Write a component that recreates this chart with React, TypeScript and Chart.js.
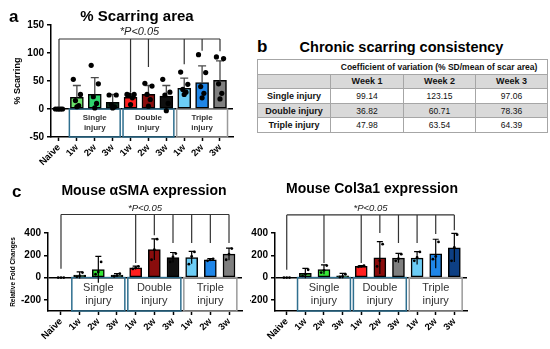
import React, { useEffect, useRef } from 'react';
import { Chart, registerables } from 'chart.js';

Chart.register(...registerables);

const FONT = "'Liberation Sans', Arial, Helvetica, sans-serif";
Chart.defaults.font.family = FONT;

// ---------- shared categories ----------
const groupLabels = ['Naive', '1w', '2w', '3w', '1w', '2w', '3w', '1w', '2w', '3w'];
const injuryLabels = [['Single', 'injury'], ['Double', 'injury'], ['Triple', 'injury']];
const injuryRanges = [[1, 3], [4, 6], [7, 9]];
const sigText = '*P<0.05';

// ---------- panel a: % scarring area ----------
const scarMean = [0, 21, 26, 12, 21, 26, 23, 37, 47, 51];
const scarSD = [0, 21, 30, 14, 6, 16, 19, 18, 30, 35];
const scarPoints = [
  [0, 0, 0, 0, 0],
  [53, 26, 15, 6, 4],
  [78, 45, 22, 10, 2],
  [25, 25, 8, 4, 2],
  [26, 26, 25, 20, 8],
  [46, 41, 26, 17, 5],
  [53, 30, 25, 10, -3],
  [66, 44, 35, 30, 26],
  [97, 65, 40, 28, 20],
  [93, 90, 45, 28, 18],
];
const scarTicks = [-50, 0, 50, 100, 150];
const scarBracketLevel = 125;
const scarBracketDrops = [[0, 3], [4, 29], [5, 75], [7, 80], [8, 104], [9, 103]];

// ---------- panel b: table ----------
const tableHeader = 'Coefficient of variation (% SD/mean of scar area)';
const tableWeeks = ['Week 1', 'Week 2', 'Week 3'];
const tableRows = ['Single injury', 'Double injury', 'Triple injury'];
const tableValues = [
  ['99.14', '123.15', '97.06'],
  ['36.82', '60.71', '78.36'],
  ['47.98', '63.54', '64.39'],
];

// ---------- panel c: fold changes ----------
const foldTicks = [-200, 0, 200, 400];

const smaMean = [0, 22, 72, 22, 88, 252, 180, 180, 160, 210];
const smaSD = [0, 30, 118, 14, 15, 95, 45, 55, 10, 55];
const smaPoints = [
  [0, 0, 0], [8, 15, 45], [30, 50, 140], [12, 18, 35], [78, 88, 100],
  [160, 250, 345], [140, 185, 215], [120, 190, 230], [150, 160, 168], [160, 210, 260],
];
const smaBracketLevel = 566;
const smaBracketDrops = [[0, 80], [4, 130], [5, 380], [6, 310], [7, 310], [8, 310], [9, 310]];

const colMean = [0, 38, 72, 15, 101, 178, 175, 175, 214, 268];
const colSD = [0, 45, 42, 22, 6, 145, 42, 57, 130, 128];
const colPoints = [
  [0, 0, 0], [15, 30, 70], [45, 65, 108], [5, 10, 30], [96, 100, 106],
  [100, 150, 300], [150, 170, 210], [150, 180, 230], [165, 190, 320], [150, 270, 385],
];
const colBracketLevel = 562;
const colBracketDrops = [[0, 70], [2, 130], [4, 130], [5, 400], [6, 310], [7, 310], [8, 390], [9, 425]];

// ---------- colours ----------
const scarColors = ['#ffffff', '#6be36b', '#2fd46e', '#10301c', '#ff1f1f', '#8a0d0d', '#101010', '#6ccdf6', '#1f86e8', '#7f7f7f'];
const smaColors = ['#ffffff', '#1e7a2c', '#35e635', '#1f6b33', '#ff1f1f', '#8a0d0d', '#101010', '#6ccdf6', '#1f86e8', '#7f7f7f'];
const colColors = ['#ffffff', '#3fbf3f', '#35e635', '#1f6b33', '#ff1f1f', '#8a0d0d', '#7f7f7f', '#6ccdf6', '#1f86e8', '#0d3f84'];
const boxColors = ['#2f6f8f', '#2f6f8f', '#9a9a9a'];

type Spec = {
  key: string;
  left: number; top: number; w: number; h: number;
  means: number[]; sds: number[]; points: number[][]; colors: string[];
  xMin: number; xMax: number; yMin: number; yMax: number; yTicks: number[];
  yAxisWidth: number; xAxisHeight: number; padTop: number; padRight: number;
  yTitle?: string; yTitleSize?: number; yTitlePad?: number;
  barWidth: number; dotRadius: number; jitter: number[];
  errColor: string; errBoth: boolean; capHalf: number; errWidth: number;
  bracketLevel: number; bracketDrops: number[][]; sigFont: string;
  boxFont: string; boxGap: number; boxPad: number;
  xTickSize: number; yTickSize: number;
};

function makeDecor(s: Spec) {
  return {
    id: 'decor_' + s.key,
    beforeDatasetsDraw(chart: any) {
      const { ctx, chartArea } = chart;
      const x = chart.scales.x, y = chart.scales.y;
      const y0 = y.getPixelForValue(0);
      const yb = chartArea.bottom;
      injuryRanges.forEach(([a, b], k) => {
        const xl = x.getPixelForValue(a - s.boxPad);
        const xr = x.getPixelForValue(b + s.boxPad);
        ctx.save();
        ctx.strokeStyle = boxColors[k];
        ctx.lineWidth = 1.5;
        ctx.strokeRect(xl, y0, xr - xl, yb - y0);
        ctx.fillStyle = '#333';
        ctx.font = s.boxFont;
        ctx.textAlign = 'center';
        ctx.textBaseline = 'middle';
        const cx = (xl + xr) / 2, cy = (y0 + yb) / 2;
        ctx.fillText(injuryLabels[k][0], cx, cy - s.boxGap);
        ctx.fillText(injuryLabels[k][1], cx, cy + s.boxGap);
        ctx.restore();
      });
    },
    afterDatasetDraw(chart: any, args: any) {
      if (args.index !== 0) return;
      const { ctx } = chart;
      const y = chart.scales.y;
      const meta = chart.getDatasetMeta(0);
      ctx.save();
      ctx.strokeStyle = s.errColor;
      ctx.lineWidth = s.errWidth;
      meta.data.forEach((el: any, i: number) => {
        const sd = s.sds[i];
        if (!sd) return;
        const m = s.means[i];
        const yt = y.getPixelForValue(m + sd);
        const yl = s.errBoth ? y.getPixelForValue(m - sd) : y.getPixelForValue(m);
        ctx.beginPath();
        ctx.moveTo(el.x, yl);
        ctx.lineTo(el.x, yt);
        ctx.moveTo(el.x - s.capHalf, yt);
        ctx.lineTo(el.x + s.capHalf, yt);
        ctx.stroke();
      });
      ctx.restore();
    },
    afterDraw(chart: any) {
      const { ctx } = chart;
      const x = chart.scales.x, y = chart.scales.y;
      const yl = y.getPixelForValue(s.bracketLevel);
      const first = x.getPixelForValue(s.bracketDrops[0][0]);
      const last = x.getPixelForValue(s.bracketDrops[s.bracketDrops.length - 1][0]);
      ctx.save();
      ctx.strokeStyle = '#333';
      ctx.lineWidth = 1.2;
      ctx.beginPath();
      ctx.moveTo(first, yl);
      ctx.lineTo(last, yl);
      s.bracketDrops.forEach(([idx, end]) => {
        const px = x.getPixelForValue(idx);
        ctx.moveTo(px, yl);
        ctx.lineTo(px, y.getPixelForValue(end));
      });
      ctx.stroke();
      ctx.fillStyle = '#222';
      ctx.font = s.sigFont;
      ctx.textAlign = 'center';
      ctx.textBaseline = 'bottom';
      ctx.fillText(sigText, (first + last) / 2, yl - 1.5);
      ctx.restore();
    },
  };
}

function buildConfig(s: Spec): any {
  const barData = s.means.map((m, i) => ({ x: i, y: m }));
  const dotData = s.points.flatMap((arr, i) => arr.map((v, j) => ({ x: i + s.jitter[j], y: v })));
  return {
    type: 'bar',
    data: {
      datasets: [
        {
          type: 'bar', data: barData, backgroundColor: s.colors, borderColor: '#000',
          borderWidth: 1.5, borderSkipped: false, barThickness: s.barWidth, order: 2,
        },
        {
          type: 'scatter', data: dotData, backgroundColor: '#000', borderWidth: 0,
          pointRadius: s.dotRadius, order: 1,
        },
      ],
    },
    options: {
      responsive: false,
      animation: false,
      devicePixelRatio: 1,
      layout: { padding: { top: s.padTop, right: s.padRight, left: 0, bottom: 0 } },
      plugins: { legend: { display: false }, tooltip: { enabled: false }, title: { display: false } },
      scales: {
        x: {
          type: 'linear', min: s.xMin, max: s.xMax, offset: false,
          afterBuildTicks: (sc: any) => { sc.ticks = groupLabels.map((_, i) => ({ value: i })); },
          afterFit: (sc: any) => { sc.height = s.xAxisHeight; },
          ticks: {
            autoSkip: false, minRotation: 45, maxRotation: 45, color: '#000', padding: 1,
            font: { size: s.xTickSize, weight: 'bold' },
            callback: (v: any) => groupLabels[v] ?? '',
          },
          grid: { display: true, drawOnChartArea: false, drawTicks: true, tickLength: 4, tickColor: '#000', tickWidth: 1.5, offset: false },
          border: { display: true, color: '#000', width: 1.5 },
        },
        y: {
          type: 'linear', min: s.yMin, max: s.yMax,
          afterBuildTicks: (sc: any) => { sc.ticks = s.yTicks.map((v) => ({ value: v })); },
          afterFit: (sc: any) => { sc.width = s.yAxisWidth; },
          ticks: { color: '#000', padding: 3, font: { size: s.yTickSize, weight: 'bold' } },
          grid: {
            color: (c: any) => (c.tick && c.tick.value === 0 ? '#000' : 'rgba(0,0,0,0)'),
            lineWidth: 1.5, tickColor: '#000', tickLength: 4, tickWidth: 1.5, drawTicks: true,
          },
          border: { display: true, color: '#000', width: 1.5 },
          title: s.yTitle
            ? { display: true, text: s.yTitle, color: '#000', font: { size: s.yTitleSize, weight: 'bold' }, padding: { top: s.yTitlePad, bottom: 0 } }
            : { display: false },
        },
      },
    },
    plugins: [makeDecor(s)],
  };
}

const scarSpec: Spec = {
  key: 'a', left: 0, top: 0, w: 240, h: 178,
  means: scarMean, sds: scarSD, points: scarPoints, colors: scarColors,
  xMin: -0.447, xMax: 9.727, yMin: -50, yMax: 150, yTicks: scarTicks,
  yAxisWidth: 51, xAxisHeight: 41, padTop: 25, padRight: 7,
  yTitle: '% Scarring', yTitleSize: 9, yTitlePad: 12,
  barWidth: 13, dotRadius: 2.6, jitter: [-0.2, 0.2, -0.08, 0.1, 0],
  errColor: '#4a4a4a', errBoth: false, capHalf: 4, errWidth: 1.3,
  bracketLevel: scarBracketLevel, bracketDrops: scarBracketDrops, sigFont: `italic 11px ${FONT}`,
  boxFont: `bold 8px ${FONT}`, boxGap: 5, boxPad: 0.42,
  xTickSize: 9.5, yTickSize: 10,
};

const smaSpec: Spec = {
  key: 'cl', left: 0, top: 180, w: 250, h: 169,
  means: smaMean, sds: smaSD, points: smaPoints, colors: smaColors,
  xMin: -0.696, xMax: 9.696, yMin: -300, yMax: 400, yTicks: foldTicks,
  yAxisWidth: 48, xAxisHeight: 38, padTop: 53, padRight: 8,
  yTitle: 'Relative Fold Changes', yTitleSize: 6.5, yTitlePad: 9,
  barWidth: 12, dotRadius: 1.4, jitter: [-0.15, 0, 0.15],
  errColor: '#000', errBoth: true, capHalf: 3, errWidth: 1.2,
  bracketLevel: smaBracketLevel, bracketDrops: smaBracketDrops, sigFont: `italic 9.5px ${FONT}`,
  boxFont: `11px ${FONT}`, boxGap: 6.5, boxPad: 0.42,
  xTickSize: 9.5, yTickSize: 10,
};

const colSpec: Spec = {
  key: 'cr', left: 250, top: 180, w: 230, h: 169,
  means: colMean, sds: colSD, points: colPoints, colors: colColors,
  xMin: -0.63, xMax: 9.68, yMin: -300, yMax: 400, yTicks: foldTicks,
  yAxisWidth: 25, xAxisHeight: 38, padTop: 53, padRight: 13,
  barWidth: 12, dotRadius: 1.4, jitter: [-0.15, 0, 0.15],
  errColor: '#000', errBoth: true, capHalf: 3, errWidth: 1.2,
  bracketLevel: colBracketLevel, bracketDrops: colBracketDrops, sigFont: `italic 9.5px ${FONT}`,
  boxFont: `11px ${FONT}`, boxGap: 6.5, boxPad: 0.42,
  xTickSize: 9.5, yTickSize: 10,
};

function PanelChart({ spec }: { spec: Spec }) {
  const ref = useRef<HTMLCanvasElement>(null);
  useEffect(() => {
    const chart = new Chart(ref.current as HTMLCanvasElement, buildConfig(spec));
    return () => chart.destroy();
  }, [spec]);
  return (
    <canvas
      ref={ref}
      width={spec.w}
      height={spec.h}
      style={{ position: 'absolute', left: spec.left, top: spec.top, width: spec.w, height: spec.h }}
    />
  );
}

function Text({ text, cx, top, size, weight = 'bold', italic = false }: any) {
  return (
    <div
      style={{
        position: 'absolute', left: cx - 160, width: 320, top, textAlign: 'center',
        fontSize: size, lineHeight: `${size}px`, fontWeight: weight,
        fontStyle: italic ? 'italic' : 'normal', whiteSpace: 'nowrap', color: '#000',
      }}
    >
      {text}
    </div>
  );
}

function Letter({ text, left, top }: any) {
  return (
    <div style={{ position: 'absolute', left, top, fontSize: 17, lineHeight: '17px', fontWeight: 'bold', color: '#000' }}>
      {text}
    </div>
  );
}

const cellBase: React.CSSProperties = {
  border: '1px solid #a6a6a6', padding: 0, textAlign: 'center', height: 13.6,
  lineHeight: '12px', overflow: 'hidden', whiteSpace: 'nowrap',
};

function CvTable() {
  return (
    <table
      style={{
        position: 'absolute', left: 257, top: 59, width: 290, borderCollapse: 'collapse',
        tableLayout: 'fixed', fontSize: 8.5, color: '#111', border: '1px solid #7a7a7a',
      }}
    >
      <colgroup>
        <col style={{ width: 73 }} />
        <col style={{ width: 73 }} />
        <col style={{ width: 72 }} />
        <col style={{ width: 72 }} />
      </colgroup>
      <tbody>
        <tr>
          <td colSpan={4} style={{ ...cellBase, paddingLeft: 73, fontWeight: 'bold', fontSize: 8.5 }}>{tableHeader}</td>
        </tr>
        <tr style={{ background: '#d9d9d9' }}>
          <td style={cellBase}></td>
          {tableWeeks.map((w) => (
            <td key={w} style={{ ...cellBase, fontWeight: 'bold', fontSize: 9 }}>{w}</td>
          ))}
        </tr>
        {tableRows.map((r, i) => (
          <tr key={r} style={{ background: i === 1 ? '#d9d9d9' : '#fff' }}>
            <td style={{ ...cellBase, fontWeight: 'bold', fontSize: 9 }}>{r}</td>
            {tableValues[i].map((v, j) => (
              <td key={j} style={cellBase}>{v}</td>
            ))}
          </tr>
        ))}
      </tbody>
    </table>
  );
}

export default function App() {
  return (
    <div
      style={{
        position: 'absolute', left: 0, top: 0, width: 550, height: 349, background: '#fff',
        overflow: 'hidden', fontFamily: FONT,
      }}
    >
      <PanelChart spec={scarSpec} />
      <PanelChart spec={smaSpec} />
      <PanelChart spec={colSpec} />
      <Letter text="a" left={9} top={7.6} />
      <Letter text="b" left={257} top={37.6} />
      <Letter text="c" left={12} top={182.6} />
      <Text text="% Scarring area" cx={137} top={7.8} size={15} />
      <Text text="Chronic scarring consistency" cx={401.5} top={40.1} size={14.5} />
      <Text text="Mouse αSMA expression" cx={144} top={183} size={14} />
      <Text text="Mouse Col3a1 expression" cx={372} top={181} size={14} />
      <CvTable />
    </div>
  );
}
